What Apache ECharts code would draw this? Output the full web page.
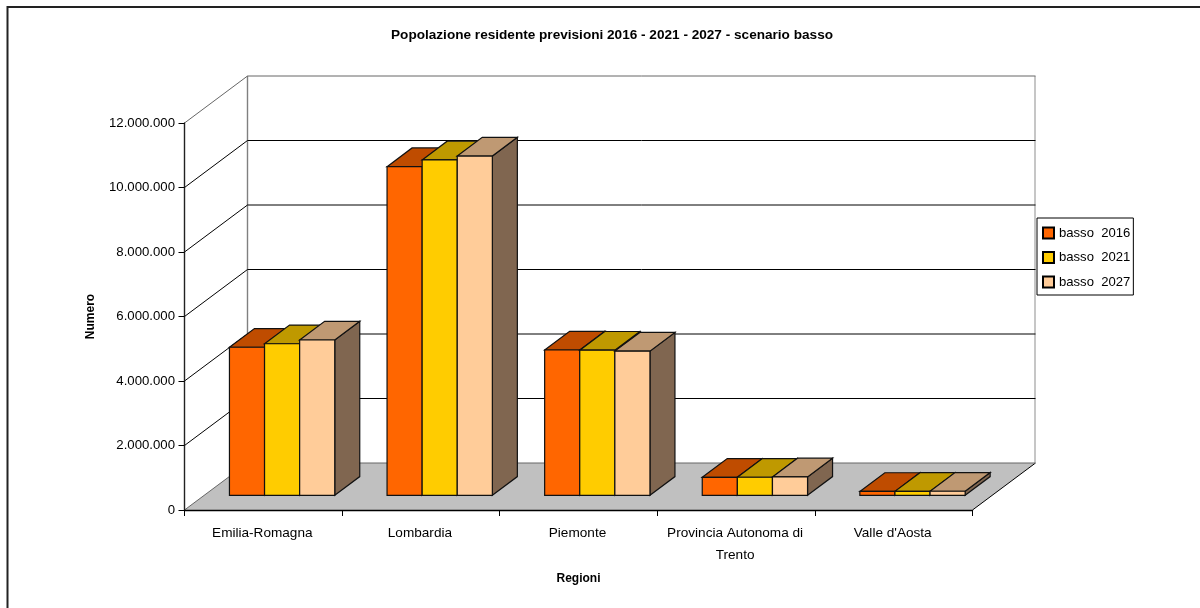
<!DOCTYPE html>
<html><head><meta charset="utf-8">
<style>html,body{margin:0;padding:0;background:#fff}#c{width:1200px;height:608px}</style>
<script src="https://cdn.jsdelivr.net/npm/echarts@6/dist/echarts.min.js"></script>
</head><body><div id="c"></div>
<script>
const categories = ['Emilia-Romagna','Lombardia','Piemonte','Provincia Autonoma di\nTrento',"Valle d'Aosta"];
const basso2016 = [4590000,10190000,4505000,558000,120000];
const basso2021 = [4700000,10400000,4500000,560000,122000];
const basso2027 = [4815000,10520000,4470000,570000,125000];
const seriesNames = ['basso  2016','basso  2021','basso  2027'];
const tickValues = [0,2000000,4000000,6000000,8000000,10000000,12000000];

const FONT = '"Liberation Sans", Arial, sans-serif';
const FRONT = ['#FF6600','#FFCC00','#FFCC99'];
const TOP = ['#BF4C00','#BF9900','#BF9973'];
const SIDE = ['#803300','#806600','#806650'];
const DX = 63, DY = 47;           // wall depth
const BAR_DX = 18.8, BAR_DY = 14.7; // bar front set-back
const BAR_DEPTH_X = 25, BAR_DEPTH_Y = 18.7;
const BAR_W = 35.1;
const line = (x1,y1,x2,y2,stroke,w) => ({type:'line',shape:{x1,y1,x2,y2},style:{stroke,lineWidth:w||1}});
const poly = (points,fill) => ({type:'polygon',shape:{points},style:{fill,stroke:'#111',lineWidth:1.2,lineJoin:'miter'}});

function renderWall(params, api){
  const v = api.value(1), cs = params.coordSys;
  const y = api.coord([0,v])[1], x0 = cs.x, x1 = cs.x+cs.width;
  const col = (v === 12000000 || v === 0) ? '#666' : '#000';
  const children = [];
  if (v === 0) {
    children.push({type:'polygon',shape:{points:[[x0,y],[x0+DX,y-DY],[x1+DX,y-DY],[x1,y]]},style:{fill:'#C0C0C0'}});
    children.push(line(x1,y,x1+DX,y-DY,'#000'));
    const topY = cs.y;
    children.push(line(x0+DX,y-DY,x0+DX,topY-DY,'#808080',1.4));
    children.push(line(x1+DX-0.5,y-DY,x1+DX-0.5,topY-DY,'#B8B8B8',1.6));
  }
  children.push(line(x0,y,x0+DX,y-DY,col));
  children.push(line(x0+DX,y-DY,x1+DX,y-DY,col));
  return {type:'group',children};
}

function renderBar(idx){
  return function(params, api){
    const c = api.value(0), v = api.value(1);
    const base = api.coord([c,0]), top = api.coord([c,v]);
    const cx = base[0] + BAR_DX + (idx-1)*BAR_W;
    const l = cx - BAR_W/2, r = cx + BAR_W/2;
    const by = base[1] - BAR_DY, ty = top[1] - BAR_DY;
    const dx = BAR_DEPTH_X, dy = BAR_DEPTH_Y;
    return {type:'group',children:[
      poly([[r,by],[r+dx,by-dy],[r+dx,ty-dy],[r,ty]],SIDE[idx]),
      poly([[l,ty],[l+dx,ty-dy],[r+dx,ty-dy],[r,ty]],TOP[idx]),
      poly([[l,by],[r,by],[r,ty],[l,ty]],FRONT[idx])
    ]};
  };
}
const makeBar = (vals,idx) => ({
  name: seriesNames[idx], type:'custom', renderItem: renderBar(idx), clip:false, z:3+idx,
  coordinateSystem:'cartesian2d', encode:{x:0,y:1},
  itemStyle:{color:FRONT[idx],borderColor:'#000',borderWidth:1},
  data: vals.map((v,i)=>[i,v])
});

const chart = echarts.init(document.getElementById('c'),null,{renderer:'canvas'});
chart.setOption({
  animation:false,
  backgroundColor:'#fff',
  textStyle:{fontFamily:FONT,color:'#000'},
  graphic:[
    {type:'line',z:-1,shape:{x1:7,y1:7,x2:1200,y2:7},style:{stroke:'#222',lineWidth:2}},
    {type:'line',z:-1,shape:{x1:7.5,y1:6,x2:7.5,y2:608},style:{stroke:'#222',lineWidth:2}}
  ],
  title:{text:'Popolazione residente previsioni 2016 - 2021 - 2027 - scenario basso',left:607,top:23.5,textAlign:'center',
    textStyle:{fontFamily:FONT,fontSize:13.6,fontWeight:'bold',color:'#000'}},
  legend:{data:seriesNames,orient:'vertical',left:1037,top:218,padding:[8.5,3,6.5,5],itemGap:11.5,itemWidth:11,itemHeight:11,
    icon:'rect',borderColor:'#000',borderWidth:1,backgroundColor:'#fff',selectedMode:false,
    textStyle:{fontFamily:FONT,fontSize:13.1,color:'#000'}},
  grid:{left:184.5,top:123,width:788,height:387,containLabel:false},
  xAxis:{type:'category',data:categories,z:10,
    name:'Regioni',nameLocation:'middle',nameGap:63,
    nameTextStyle:{fontFamily:FONT,fontSize:12,fontWeight:'bold',color:'#000'},
    axisLine:{lineStyle:{color:'#000',width:1.4}},axisTick:{show:true,alignWithLabel:false,length:6,lineStyle:{color:'#000'}},
    axisLabel:{fontFamily:FONT,fontSize:13.6,color:'#000',margin:12,lineHeight:22,interval:0,padding:[0,2,0,0]},splitLine:{show:false}},
  yAxis:{type:'value',min:0,max:12000000,interval:2000000,z:10,
    name:'Numero',nameLocation:'middle',nameGap:88,nameRotate:90,
    nameTextStyle:{fontFamily:FONT,fontSize:12,fontWeight:'bold',color:'#000'},
    axisLine:{show:true,lineStyle:{color:'#222',width:1.4}},axisTick:{show:true,length:6,lineStyle:{color:'#000'}},
    splitLine:{show:false},
    axisLabel:{fontFamily:FONT,fontSize:13.2,color:'#000',margin:9.5,
      formatter:v=>String(v).replace(/\B(?=(\d{3})+$)/g,'.')}},
  series:[
    {type:'custom',name:'pareti',renderItem:renderWall,clip:false,z:1,coordinateSystem:'cartesian2d',encode:{x:0,y:1},
     silent:true,data:tickValues.map(v=>[0,v])},
    makeBar(basso2016,0),makeBar(basso2021,1),makeBar(basso2027,2)
  ]
});
</script></body></html>
